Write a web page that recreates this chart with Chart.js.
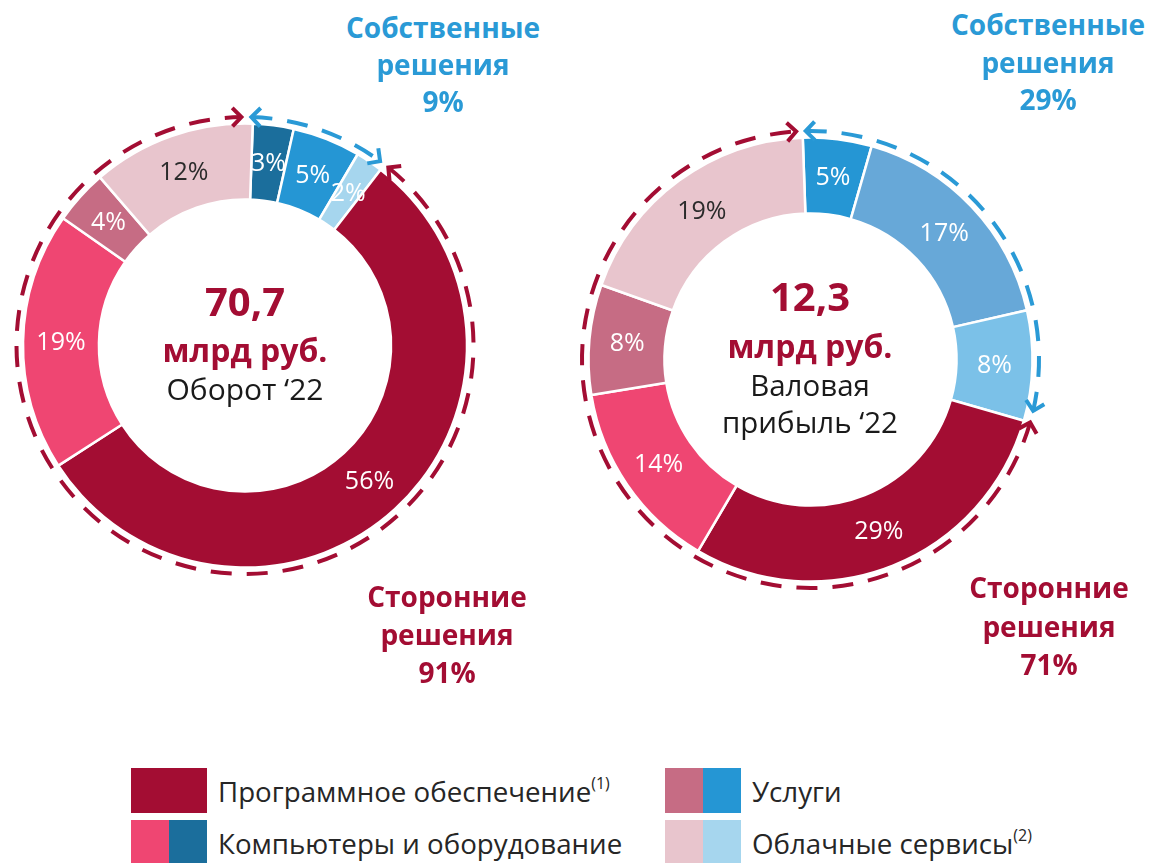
<!DOCTYPE html>
<html lang="ru">
<head>
<meta charset="utf-8">
<script src="https://cdn.jsdelivr.net/npm/chart.js@4.4.1/dist/chart.umd.min.js"></script>
<style>
  body{margin:0;width:1158px;height:863px;background:#fff;position:relative;overflow:hidden;font-family:'Open Sans',sans-serif;}
  canvas{position:absolute;}
  .t{position:absolute;width:320px;text-align:center;line-height:1;white-space:nowrap;}
  .b{font-weight:700;}
  .red{color:#A30D33;}
  .blue{color:#2A9AD6;}
  .dark{color:#1a1a1a;}
  .leg{position:absolute;display:flex;align-items:center;}
  .leg .sw{display:flex;width:76px;height:45px;margin-right:11px;}
  .leg .sw span{flex:1;}
  .leg .lb{font-size:27.7px;color:#262626;white-space:nowrap;}
  .leg sup{font-size:16px;vertical-align:13px;line-height:0;}
</style>
</head>
<body>
<canvas id="turnover" width="490" height="501" style="left:0;top:95px"></canvas>
<canvas id="profit" width="501" height="501" style="left:560px;top:109px"></canvas>
<div id="texts"></div>
<div id="legend"></div>
<script>
// ---- data ----
const turnoverCategories = ['Компьютеры и оборудование (собств.)','Услуги (собств.)','Облачные сервисы (собств.)','Программное обеспечение','Компьютеры и оборудование','Услуги','Облачные сервисы'];
const turnoverValues = [3, 5, 2, 56, 19, 4, 12];
const profitCategories = ['Услуги (собств.)','Программное обеспечение (собств.)','Облачные сервисы (собств.)','Программное обеспечение','Компьютеры и оборудование','Услуги','Облачные сервисы'];
const profitValues = [5, 17, 8, 29, 14, 8, 19];
const ownSegments = 3;          // first three slices are "own solutions"
const turnoverTotal = '70,7';
const profitTotal = '12,3';
const turnoverOwn = 9, turnoverThird = 91;
const profitOwn = 29, profitThird = 71;
const legendLabels = ['Программное обеспечение','Компьютеры и оборудование','Услуги','Облачные сервисы'];
const legendNotes = ['(1)', '', '', '(2)'];

// ---- styles ----
const CRIMSON = '#A30D33', BLUE = '#2A9AD6';
const turnoverColors = ['#1B6E9C','#2596D4','#A6D6EE',CRIMSON,'#EF4672','#C66C84','#E8C5CD'];
const profitColors = ['#2596D4','#67A8D8','#7BC1E8',CRIMSON,'#EF4672','#C66C84','#E8C5CD'];
const turnoverLabelColors = ['#fff','#fff','#fff','#fff','#fff','#fff','#2b2b2b'];
const profitLabelColors = ['#fff','#fff','#fff','#fff','#fff','#fff','#2b2b2b'];
const legendColors = [[CRIMSON],['#EF4672','#1B6E9C'],['#C66C84','#2596D4'],['#E8C5CD','#A6D6EE']];

const DEG = Math.PI / 180;

function chevron(ctx, x, y, dir, size){
  ctx.beginPath();
  ctx.moveTo(x - size*Math.cos(dir - 0.8), y - size*Math.sin(dir - 0.8));
  ctx.lineTo(x, y);
  ctx.lineTo(x - size*Math.cos(dir + 0.8), y - size*Math.sin(dir + 0.8));
  ctx.stroke();
}

function dashedArc(ctx, cx, cy, r, a0, a1, color){
  ctx.save();
  ctx.strokeStyle = color;
  ctx.lineWidth = 4;
  ctx.setLineDash([21, 15]);
  ctx.beginPath();
  ctx.arc(cx, cy, r, a0, a1);
  ctx.stroke();
  ctx.setLineDash([]);
  ctx.lineJoin = 'miter';
  // start arrow points counter-clockwise, end arrow clockwise
  chevron(ctx, cx + r*Math.cos(a0), cy + r*Math.sin(a0), a0 - Math.PI/2, 13);
  chevron(ctx, cx + r*Math.cos(a1), cy + r*Math.sin(a1), a1 + Math.PI/2, 13);
  ctx.restore();
}

const ringDecor = {
  id: 'ringDecor',
  afterDatasetsDraw(chart, args, opts){
    const ctx = chart.ctx;
    const arcs = chart.getDatasetMeta(0).data;
    const values = chart.data.datasets[0].data;
    const cx = arcs[0].x, cy = arcs[0].y;

    // percent labels
    ctx.save();
    ctx.font = '25px "Open Sans"';
    ctx.textAlign = 'center';
    ctx.textBaseline = 'middle';
    arcs.forEach((a, i) => {
      const p = a.tooltipPosition();
      ctx.fillStyle = opts.labelColors[i];
      ctx.fillText(values[i] + '%', p.x, p.y + 1);
    });
    ctx.restore();

    // dashed group arcs
    const r = arcs[0].outerRadius + 6.5;
    const s = arcs[0].startAngle, e = arcs[opts.own - 1].endAngle;
    dashedArc(ctx, cx, cy, r, s + opts.ownGap[0]*DEG, e + opts.ownGap[1]*DEG, BLUE);
    dashedArc(ctx, cx, cy, r, e + opts.thirdGap[0]*DEG, s + 2*Math.PI + opts.thirdGap[1]*DEG, CRIMSON);
  }
};

function donut(id, labels, values, colors, labelColors, rotation, ownGap, thirdGap){
  return new Chart(document.getElementById(id), {
    type: 'doughnut',
    data: {
      labels: labels,
      datasets: [{
        data: values,
        backgroundColor: colors,
        borderColor: '#ffffff',
        borderWidth: 2.5,
        hoverOffset: 0
      }]
    },
    options: {
      responsive: false,
      animation: false,
      rotation: rotation,
      radius: 222,
      cutout: '65.8%',
      layout: {padding: 0},
      events: [],
      plugins: {
        legend: {display: false},
        tooltip: {enabled: false},
        ringDecor: {labelColors: labelColors, own: ownSegments, ownGap: ownGap, thirdGap: thirdGap}
      }
    },
    plugins: [ringDecor]
  });
}

donut('turnover', turnoverCategories, turnoverValues, turnoverColors, turnoverLabelColors, 2, [-0.4, -1.4], [1.2, -2.9]);
donut('profit', profitCategories, profitValues, profitColors, profitLabelColors, -2, [0.8, -3], [0, -1.6]);

// ---- texts (baseline-positioned lines) ----
const texts = document.getElementById('texts');
function line(txt, cx, baseline, size, cls){
  const d = document.createElement('div');
  d.className = 't ' + cls;
  d.style.fontSize = size + 'px';
  d.style.left = (cx - 160) + 'px';
  d.style.top = (baseline - 0.888*size) + 'px';
  d.textContent = txt;
  texts.appendChild(d);
}
// centres
line(turnoverTotal, 245, 317, 40, 'b red');
line('млрд руб.', 245, 362, 32, 'b red');
line('Оборот ‘22', 245, 401, 30, 'dark');
line(profitTotal, 810, 312, 40, 'b red');
line('млрд руб.', 810, 358, 32, 'b red');
line('Валовая', 810, 396, 29.5, 'dark');
line('прибыль ‘22', 810, 433, 29.5, 'dark');
// group captions
line('Собственные', 443, 38, 28, 'b blue');
line('решения', 443, 75, 28, 'b blue');
line(turnoverOwn + '%', 443, 112, 28, 'b blue');
line('Собственные', 1048, 35, 28, 'b blue');
line('решения', 1048, 73, 28, 'b blue');
line(profitOwn + '%', 1048, 110, 28, 'b blue');
line('Сторонние', 447, 607, 28, 'b red');
line('решения', 447, 645, 28, 'b red');
line(turnoverThird + '%', 447, 683, 28, 'b red');
line('Сторонние', 1049, 598, 28, 'b red');
line('решения', 1049, 637, 28, 'b red');
line(profitThird + '%', 1049, 675, 28, 'b red');

// ---- legend ----
const legend = document.getElementById('legend');
const legendPos = [[131,768],[131,820],[665,768],[665,820]];
legendLabels.forEach((lab, i) => {
  const item = document.createElement('div');
  item.className = 'leg';
  item.style.left = legendPos[i][0] + 'px';
  item.style.top = legendPos[i][1] + 'px';
  const sw = document.createElement('div');
  sw.className = 'sw';
  legendColors[i].forEach(c => { const s = document.createElement('span'); s.style.background = c; sw.appendChild(s); });
  const lb = document.createElement('div');
  lb.className = 'lb';
  lb.textContent = lab;
  if(legendNotes[i]){ const sp = document.createElement('sup'); sp.textContent = legendNotes[i]; lb.appendChild(sp); }
  item.appendChild(sw);
  item.appendChild(lb);
  legend.appendChild(item);
});
</script>
</body>
</html>
